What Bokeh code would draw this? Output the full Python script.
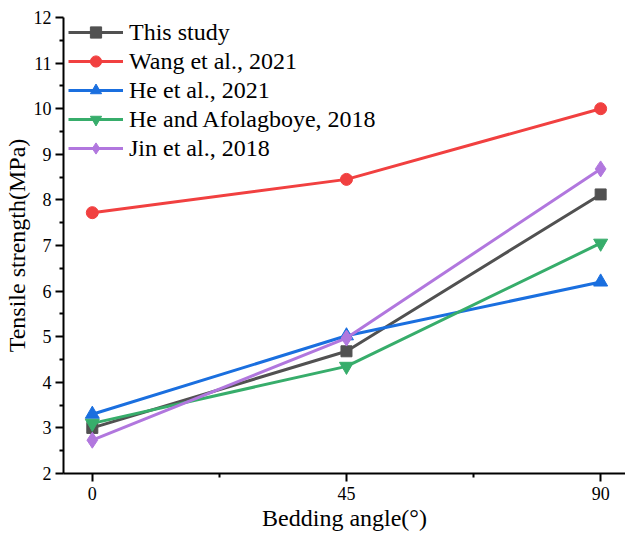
from bokeh.plotting import figure
from bokeh.models import Range1d, FixedTicker, Legend, LegendItem
from bokeh.embed import file_html
from bokeh.resources import INLINE

angles = [0, 45, 90]
series_names = ["This study", "Wang et al., 2021", "He et al., 2021",
                "He and Afolagboye, 2018", "Jin et al., 2018"]
this_study = [3.00, 4.68, 8.12]
wang_2021 = [7.72, 8.45, 10.00]
he_2021 = [3.30, 5.02, 6.20]
he_afolagboye_2018 = [3.10, 4.35, 7.05]
jin_2018 = [2.73, 4.97, 8.68]

x_ticks = [0, 45, 90]
y_ticks = [2, 3, 4, 5, 6, 7, 8, 9, 10, 11, 12]

FONT = "Liberation Serif"

p = figure(width=625, height=534, output_backend="svg", toolbar_location=None,
           x_range=Range1d(-5.1, 94.4), y_range=Range1d(2, 12),
           min_border_left=63, min_border_right=0, min_border_top=17,
           min_border_bottom=61, outline_line_color=None)
p.grid.visible = False
p.background_fill_color = "white"

styles = [
    (this_study, "#515151", "square", 11),
    (wang_2021, "#F14040", "circle", 12),
    (he_2021, "#1A6FDF", "triangle", 14),
    (he_afolagboye_2018, "#37AD6B", "inverted_triangle", 14),
    (jin_2018, "#B177DE", "diamond", 16),
]

items = []
for name, (vals, color, marker, size) in zip(series_names, styles):
    ln = p.line(angles, vals, line_color=color, line_width=3)
    sc = p.scatter(angles, vals, marker=marker, size=size, fill_color=color,
                   line_color=color)
    items.append(LegendItem(label=name, renderers=[ln, sc]))

legend = Legend(items=items, location=(5, 311))
legend.border_line_color = None
legend.background_fill_alpha = 0
legend.label_text_font = FONT
legend.label_text_font_size = "24px"
legend.label_text_color = "black"
legend.label_standoff = 6
legend.glyph_width = 55
legend.glyph_height = 28
legend.label_height = 28
legend.spacing = 1
legend.padding = 4
legend.margin = 0
p.add_layout(legend)

for ax in (p.xaxis[0], p.yaxis[0]):
    ax.axis_line_width = 2
    ax.axis_line_color = "black"
    ax.major_tick_line_width = 2
    ax.minor_tick_line_width = 2
    ax.major_tick_line_color = "black"
    ax.minor_tick_line_color = "black"
    ax.major_tick_out = 8
    ax.major_tick_in = 0
    ax.minor_tick_out = 4
    ax.minor_tick_in = 0
    ax.major_label_text_font = FONT
    ax.major_label_text_font_size = "18px"
    ax.major_label_text_color = "black"
    ax.axis_label_text_font = FONT
    ax.axis_label_text_font_size = "24px"
    ax.axis_label_text_font_style = "normal"
    ax.axis_label_text_color = "black"

p.xaxis.ticker = FixedTicker(ticks=x_ticks, minor_ticks=[22.5, 67.5])
p.yaxis.ticker = FixedTicker(ticks=y_ticks,
                             minor_ticks=[v + 0.5 for v in y_ticks[:-1]])
p.xaxis.axis_label = "Bedding angle(°)"
p.yaxis.axis_label = "Tensile strength(MPa)"
p.xaxis.major_label_standoff = 5
p.xaxis.axis_label_standoff = 2
p.yaxis.major_label_standoff = 4
p.yaxis.axis_label_standoff = 1

open("out.html", "w").write(file_html(p, INLINE))
